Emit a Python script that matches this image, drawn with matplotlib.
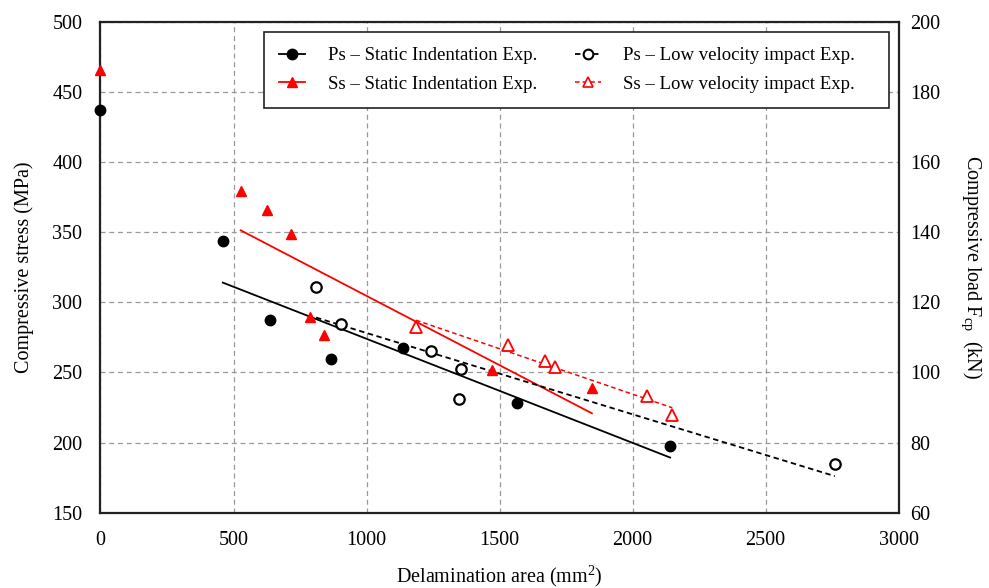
import numpy as np
import matplotlib
matplotlib.use("Agg")
import matplotlib.pyplot as plt
from matplotlib.lines import Line2D

plt.rcParams['font.family'] = ['Liberation Serif', 'DejaVu Serif']
plt.rcParams['mathtext.fontset'] = 'custom'
plt.rcParams['mathtext.rm'] = 'Liberation Serif'
plt.rcParams['mathtext.it'] = 'Liberation Serif:italic'

# Data (delamination area mm^2, compressive stress MPa)
ps_static_x = [0, 460, 637, 866, 1136, 1564, 2141]
ps_static_y = [437, 343.7, 287.3, 259.5, 267.6, 228, 197.8]
ss_static_x = [0, 527, 625, 715, 787, 841, 1471, 1847]
ss_static_y = [465.5, 379, 365.8, 348.4, 289.7, 276.7, 251.7, 238.7]
ps_lvi_x = [810, 903, 1242, 1354, 1346, 2760]
ps_lvi_y = [311, 284.3, 265.3, 252.2, 231, 184.7]
ss_lvi_x = [1186, 1530, 1672, 1708, 2053, 2149]
ss_lvi_y = [282.6, 269.5, 258.3, 253.6, 233.4, 219.6]

labels = ["Ps – Static Indentation Exp.", "Ss – Static Indentation Exp.",
          "Ps – Low velocity impact Exp.", "Ss – Low velocity impact Exp."]
x_ticks = [0, 500, 1000, 1500, 2000, 2500, 3000]
y_ticks = [150, 200, 250, 300, 350, 400, 450, 500]
y2_ticks = [60, 80, 100, 120, 140, 160, 180, 200]

RED = '#ff0000'

fig = plt.figure(figsize=(9.89, 5.88), dpi=100)
ax = fig.add_axes([0.1016, 0.128, 0.8071, 0.8354])

def fit_line(xs, ys, skip_zero=True):
    xs = np.asarray(xs, float); ys = np.asarray(ys, float)
    if skip_zero:
        m = xs > 0
        xs, ys = xs[m], ys[m]
    k, b = np.polyfit(xs, ys, 1)
    xx = np.array([xs.min(), xs.max()])
    return xx, k * xx + b

# Fit lines
xx, yy = fit_line(ps_static_x, ps_static_y)
ax.plot(xx, yy, color='black', lw=1.3, zorder=3)
xx, yy = fit_line(ss_static_x, ss_static_y)
ax.plot(xx, yy, color=RED, lw=1.3, zorder=3)
xx, yy = fit_line(ps_lvi_x, ps_lvi_y)
ax.plot(xx, yy, color='black', lw=1.3, ls=(0, (3, 2)), zorder=3)
xx, yy = fit_line(ss_lvi_x, ss_lvi_y)
ax.plot(xx, yy, color=RED, lw=1.1, ls=(0, (3, 2)), zorder=3)

# Markers
ax.plot(ps_static_x, ps_static_y, 'o', ms=7.5, color='black', ls='none', zorder=4, clip_on=False)
ax.plot(ss_static_x, ss_static_y, '^', ms=7.5, color=RED, ls='none', zorder=4, clip_on=False)
ax.plot(ps_lvi_x, ps_lvi_y, 'o', ms=7.5, mfc='white', mec='black', mew=1.6, ls='none', zorder=4)
ax.plot(ss_lvi_x, ss_lvi_y, '^', ms=8, mfc='white', mec=RED, mew=1.3, ls='none', zorder=4)

ax.set_xlim(0, 3000)
ax.set_ylim(150, 500)
ax.set_xticks(x_ticks)
ax.set_yticks(y_ticks)
ax.grid(True, color='#999999', ls=(0, (4, 3)), lw=0.9)
ax.set_axisbelow(True)
for s in ax.spines.values():
    s.set_linewidth(1.6)
    s.set_color('#222222')
ax.tick_params(axis='y', length=0, labelsize=14.5, pad=13)
ax.tick_params(axis='x', length=0, labelsize=14.5, pad=13)
ax.set_xlabel("Delamination area (mm$^2$)", fontsize=14.5, labelpad=10)
ax.set_ylabel("Compressive stress (MPa)", fontsize=14.5, labelpad=13)

ax2 = ax.twinx()
ax2.set_ylim(60, 200)
ax2.set_yticks(y2_ticks)
ax2.tick_params(axis='y', length=0, labelsize=14.5, pad=8)
for s in ax2.spines.values():
    s.set_visible(False)
ax2.set_ylabel("Compressive load F$_{\\mathrm{cp}}$  (kN)", fontsize=14.5, rotation=270, labelpad=31)

handles = [
    Line2D([], [], color='black', lw=1.3, marker='o', ms=7.5),
    Line2D([], [], color=RED, lw=1.3, marker='^', ms=7.5),
    Line2D([], [], color='black', lw=1.3, ls=(0, (3, 2)), marker='o', ms=7, mfc='white', mew=1.5),
    Line2D([], [], color=RED, lw=1.1, ls=(0, (3, 2)), marker='^', ms=7.5, mfc='white', mew=1.2),
]
# trailing spaces widen the right padding of the legend box as in the reference
leg_labels = labels[:2] + [lab + "    " for lab in labels[2:]]
leg = ax.legend(handles, leg_labels, ncol=2, loc='upper right', bbox_to_anchor=(0.988, 0.9786),
                borderaxespad=0.0,
                fontsize=13.5, frameon=True, fancybox=False, edgecolor='#222222',
                framealpha=1, handlelength=1.4, columnspacing=2.0, borderpad=0.8,
                labelspacing=0.6, handletextpad=1.2)
leg.get_frame().set_linewidth(1.2)

fig.savefig("out.png", dpi=100)
